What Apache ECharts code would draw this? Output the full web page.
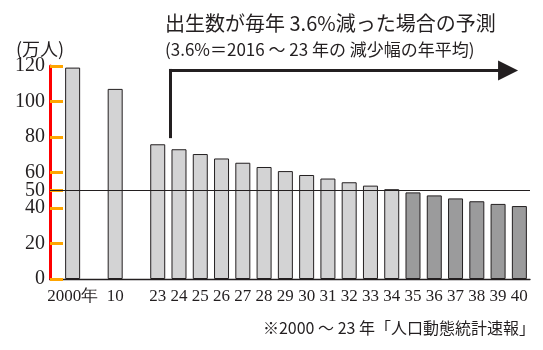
<!DOCTYPE html>
<html>
<head>
<meta charset="utf-8">
<script src="https://cdn.jsdelivr.net/npm/echarts@6/dist/echarts.min.js"></script>
<style>
  html, body { margin: 0; padding: 0; background: #fff; }
  #chart { width: 543px; height: 350px; }
</style>
</head>
<body>
<div id="chart"></div>
<script>
// Births per year (10,000 persons); blank slots separate 2000, 2010 and 2023-40
var categories = ['2000年', '', '10', '', '23', '24', '25', '26', '27', '28', '29',
                  '30', '31', '32', '33', '34', '35', '36', '37', '38', '39', '40'];
var births = [119.1, null, 107.1, null, 75.9, 73.1, 70.4, 67.9, 65.5, 63.1, 60.8,
              58.6, 56.6, 54.5, 52.6, 50.6, 48.8, 47.1, 45.4, 43.8, 42.3, 41.1];
var darkFrom = '35';
var yTicks = [0, 20, 40, 50, 60, 80, 100, 120];
var refLevel = 50;

var slotShift = 1.064;
var xMax = categories.length - 0.5 + slotShift;
var arrowX = 4.6, arrowBase = 80.2, arrowTop = 117.5, arrowEnd = 20.47;

var INK = '#231f20';
var LIGHT = '#d3d3d4';
var DARK = '#9b9b9c';
var SERIF = '"Liberation Serif", "DejaVu Serif", serif';
var CJK = '"Noto Sans CJK JP", "Noto Sans", sans-serif';

var darkIdx = categories.indexOf(darkFrom);
var barData = [];
births.forEach(function (v, i) {
  if (v == null) return;
  barData.push({
    value: [i + slotShift, v],
    name: categories[i],
    itemStyle: { color: i >= darkIdx ? DARK : LIGHT }
  });
});

var chart = echarts.init(document.getElementById('chart'), null, { renderer: 'canvas' });
chart.setOption({
  animation: false,
  backgroundColor: '#fff',
  title: [
    { text: '出生数が毎年 3.6%減った場合の予測', left: 160, top: 8,
      textStyle: { fontFamily: CJK, fontSize: 20, fontWeight: 'normal', color: INK } },
    { text: '(3.6%＝2016 ～ 23 年の 減少幅の年平均)', left: 160, top: 36,
      textStyle: { fontFamily: CJK, fontSize: 17, fontWeight: 'normal', color: INK } },
    { text: '(万人)', left: 11, top: 35,
      textStyle: { fontFamily: CJK, fontSize: 18, fontWeight: 'normal', color: INK } },
    { text: '※2000 ～ 23 年「人口動態統計速報」', right: 3, top: 315,
      textStyle: { fontFamily: CJK, fontSize: 16, fontWeight: 'normal', color: INK } }
  ],
  grid: { left: 50, right: 13, top: 66, bottom: 71 },
  xAxis: {
    type: 'value', min: 0, max: xMax,
    axisLine: { show: true, lineStyle: { color: INK, width: 1.3 } },
    axisTick: { show: false }, axisLabel: { show: false }, splitLine: { show: false }
  },
  yAxis: {
    type: 'value', min: 0, max: 120,
    axisLine: { show: true, lineStyle: { color: 'red', width: 3 } },
    axisTick: { show: true, inside: true, length: 13, customValues: yTicks,
                lineStyle: { color: 'orange', width: 3 } },
    axisLabel: { customValues: yTicks, margin: 5, fontFamily: SERIF, fontSize: 20, color: INK },
    splitLine: { show: false }
  },
  series: [
    { type: 'line', data: [], silent: true, z: 1,
      markLine: { silent: true, symbol: ['none', 'none'], label: { show: false },
        lineStyle: { color: INK, width: 1, type: 'solid' },
        data: [{ yAxis: refLevel }] } },
    { type: 'line', data: [], silent: true, z: 4,
      markLine: { silent: true, symbol: ['none', 'none'], label: { show: false },
        lineStyle: { color: INK, width: 3, type: 'solid', cap: 'square' },
        data: [[{ coord: [arrowX + slotShift, arrowBase] },
                { coord: [arrowX + slotShift, arrowTop] }]] } },
    { type: 'line', data: [], silent: true, z: 4,
      markLine: { silent: true, symbol: ['none', 'triangle'], symbolSize: [20, 20],
        label: { show: false },
        lineStyle: { color: INK, width: 3, type: 'solid', cap: 'square' },
        itemStyle: { color: INK },
        data: [[{ coord: [arrowX + slotShift, arrowTop] },
                { coord: [arrowEnd + slotShift, arrowTop] }]] } },
    { type: 'bar', data: barData, barWidth: 15, z: 3,
      itemStyle: { borderColor: INK, borderWidth: 1 },
      label: { show: true, position: 'bottom', distance: 9,
               formatter: function (p) { return p.name; },
               fontFamily: SERIF, fontSize: 17, color: INK } }
  ]
});
</script>
</body>
</html>
